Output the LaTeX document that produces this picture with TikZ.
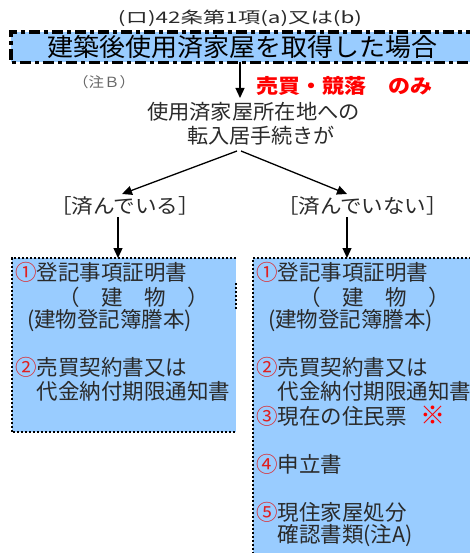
\documentclass[tikz,border=0pt]{standalone}
\usepackage{fontspec}
\setmainfont{Noto Sans CJK JP}
\usetikzlibrary{arrows.meta}
\definecolor{boxblue}{HTML}{99CCFF}
\definecolor{txt}{HTML}{2A2A2A}
\definecolor{numred}{HTML}{E02020}
\newcommand{\cn}[1]{\textcolor{numred}{#1}}
\begin{document}
\begin{tikzpicture}[x=1pt,y=-1pt,
  arr/.style={line width=1.3pt,-{Triangle[length=10pt,width=9pt]}},
  dotb/.style={line width=2pt,dash pattern=on 2pt off 2pt},
  dashdotb/.style={line width=3.5pt,dash pattern=on 11pt off 4pt on 4pt off 4pt},
  bodytxt/.style={anchor=west,inner sep=0pt,text=txt,font=\fontsize{21.5}{24}\selectfont},
  plain/.style={inner sep=0pt,text=txt}]
\useasboundingbox (0,0) rectangle (470,553);

% title
\node[plain,font=\fontsize{16}{18}\selectfont] (sub) at (240,18) {\resizebox{244pt}{\height}{(ロ)42条第1項(a)又は(b)}};
\node[fill=boxblue,inner sep=0pt,minimum width=466pt,minimum height=30pt,anchor=north west] (tbox) at (11,32) {};
\draw[dashdotb] (tbox.north east) -- (tbox.north west) -- (tbox.south west) -- (tbox.south east);
\node[inner sep=0pt,font=\fontsize{25}{28}\selectfont] (ttxt) at (242,47) {\resizebox{390pt}{\height}{建築後使用済家屋を取得した場合}};

\node[plain,text=black!60,font=\fontsize{14}{16}\selectfont] (noteb) at (104,82) {\resizebox{62pt}{\height}{（注Ｂ）}};
\node[inner sep=0pt,text=red,font=\bfseries\fontsize{20}{22}\selectfont,anchor=west] (only) at (256,86) {\resizebox{176pt}{\height}{売買・競落　のみ}};

\coordinate (t1) at (240,62);
\coordinate (t2) at (240,98);
\draw[arr] (t1) -- (t2);

\node[plain,font=\fontsize{20.5}{24}\selectfont] (q1) at (253.5,112) {\resizebox{213pt}{\height}{使用済家屋所在地への}};
\node[plain,font=\fontsize{20.5}{24}\selectfont] (q2) at (261,136) {\resizebox{148pt}{\height}{転入居手続きが}};

\coordinate (qa) at (237,151);
\coordinate (qb) at (241,151);
\coordinate (la) at (122,194);
\coordinate (ra) at (347,194);
\draw[arr] (qa) -- (la);
\draw[arr] (qb) -- (ra);

\node[plain,font=\fontsize{20}{22}\selectfont] (yes) at (125,206) {\resizebox{150pt}{\height}{［済んでいる］}};
\node[plain,font=\fontsize{20}{22}\selectfont] (no) at (362.5,206) {\resizebox{171pt}{\height}{［済んでいない］}};

% boxes
\node[fill=boxblue,inner sep=0pt,minimum width=224pt,minimum height=174pt,anchor=north west] (lbox) at (12,258) {};
\draw[dotb] (lbox.north east) -- (lbox.north west) -- (lbox.south west) -- (lbox.south east);
\draw[dotb] ([yshift=-25pt]lbox.north east) -- ([yshift=-52pt]lbox.north east);
\node[fill=boxblue,inner sep=0pt,minimum width=226pt,minimum height=302pt,anchor=north west] (rbox) at (253,258) {};
\draw[dotb] (rbox.north east) -- (rbox.north west) -- (rbox.south west);

\coordinate (ld1) at (118,217);
\coordinate (rd1) at (347,217);
\draw[arr] (ld1) -- (ld1 |- lbox.north);
\draw[arr] (rd1) -- (rd1 |- rbox.north);

% left text
\node[bodytxt] (l1) at (15,272) {\cn{①}登記事項証明書};
\node[bodytxt] (l2) at (15,297) {　　（　建　物　）};
\node[bodytxt] (l3) at (27,321) {(建物登記簿謄本)};
\node[bodytxt] (l4) at (15,367) {\cn{②}売買契約書又は};
\node[bodytxt] (l5) at (15,391) {　代金納付期限通知書};

% right text
\node[bodytxt] (r1) at (256,272) {\cn{①}登記事項証明書};
\node[bodytxt] (r2) at (256,297) {　　（　建　物　）};
\node[bodytxt] (r3) at (268,321) {(建物登記簿謄本)};
\node[bodytxt] (r4) at (256,367) {\cn{②}売買契約書又は};
\node[bodytxt] (r5) at (256,391) {　代金納付期限通知書};
\node[bodytxt] (r6) at (256,416) {\cn{③}現在の住民票\hspace{14pt}\textcolor{red}{\bfseries\fontsize{25}{25}\selectfont ※}};
\node[bodytxt] (r7) at (256,464) {\cn{④}申立書};
\node[bodytxt] (r8) at (256,512) {\cn{⑤}現住家屋処分};
\node[bodytxt] (r9) at (256,536) {　確認書類(注A)};
\end{tikzpicture}
\end{document}
